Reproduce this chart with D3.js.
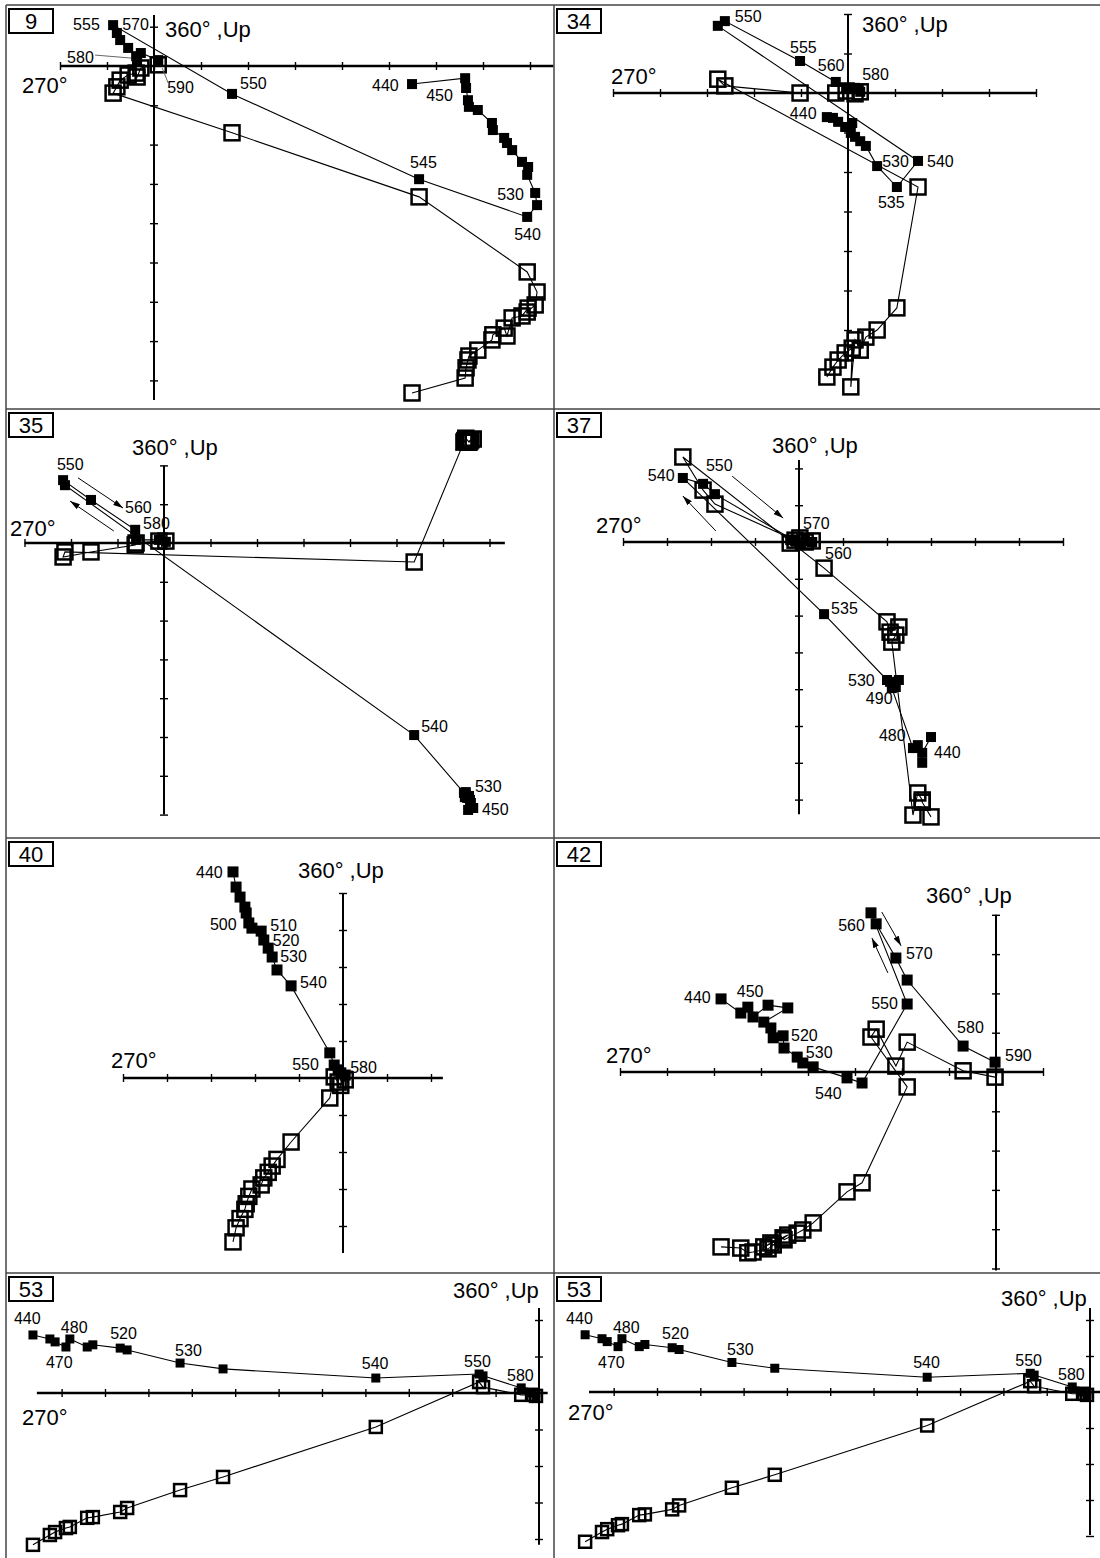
<!DOCTYPE html>
<html><head><meta charset="utf-8">
<script src="https://cdn.jsdelivr.net/npm/d3@7"></script>
<style>
body{margin:0;background:#fff}
svg{display:block}
text{font-family:"Liberation Sans",Arial,sans-serif;fill:#000}
</style>
</head><body>
<svg id="c" width="1100" height="1558"></svg>
<script>
// ---------- DATA (tick units; E = east, N = north, U = up) ----------
// Panel 9
const p9Steps = [440,450,455,460,465,470,475,480,485,490,495,500,510,520,530,535,540,545,550,555,560,565,570,575,580,585,590];
const p9E = [5.49,6.62,6.64,6.68,6.70,6.89,7.19,7.21,7.45,7.51,7.62,7.83,7.96,7.94,8.11,8.15,7.94,5.64,1.66,-0.87,-0.79,-0.72,-0.55,-0.38,-0.36,-0.28,0.09];
const p9N = [-0.46,-0.31,-0.56,-0.87,-1.04,-1.12,-1.45,-1.63,-1.83,-1.96,-2.14,-2.44,-2.57,-2.77,-3.23,-3.54,-3.84,-2.88,-0.71,1.04,0.84,0.66,0.46,0.25,0.10,0.33,0.15];
const p9U = [-8.32,-7.94,-7.68,-7.48,-7.38,-7.23,-6.97,-6.84,-6.67,-6.87,-6.41,-6.36,-6.16,-6.26,-6.08,-5.75,-5.24,-3.33,-1.70,-0.69,-0.53,-0.36,-0.23,-0.18,-0.28,-0.05,0.03];
const p9Labels = [["555",555,"h",-40,5],["570",570,"h",-6,-18],["580",580,"h",-70,1],["590",590,"h",9,33],["550",550,"h",8,-5],["440",440,"h",-40,7],["450",450,"h",-39,23],["545",545,"h",-9,-11],["530",530,"h",-38,7],["540",540,"h",-13,23]];
const p9Leaders = [[580,"h",-42,-7,-6,-4],[590,"h",4,8,10,23]];

// Panel 34
const p34Steps = [440,450,460,470,480,490,500,510,520,530,535,540,545,550,555,560,570,575,580];
const p34E = [-0.45,-0.32,-0.21,-0.06,0.09,0.06,0.15,0.26,0.38,0.62,1.04,1.49,-2.77,-2.62,-1.02,-0.26,-0.04,0.15,0.26];
const p34N = [-0.61,-0.63,-0.73,-0.86,-0.76,-1.01,-1.11,-1.22,-1.34,-1.85,-2.38,-1.72,1.70,1.82,0.81,0.28,0.13,0.13,0.03];
const p34U = [-7.19,-6.94,-6.76,-6.58,-6.46,-7.44,-6.25,-6.51,-6.18,-6.00,-5.44,-2.38,0.35,0.18,0.00,0.00,0.05,-0.02,0.03];
const p34Labels = [["550",550,"h",10,1],["555",555,"h",-10,-8],["560",560,"h",-18,-11],["580",580,"h",2,-12],["440",440,"h",-37,2],["530",530,"h",5,1],["540",540,"h",9,6],["535",535,"h",-19,21]];

// Panel 35
const p35Steps = [440,450,460,470,480,490,500,510,520,530,540,550,555,560,570,580,590,600];
const p35E = [6.54,6.60,6.65,6.58,6.56,6.52,6.49,6.47,6.49,6.45,5.38,-2.13,-2.17,-1.57,-0.62,-0.60,-0.11,0.04];
const p35N = [-6.88,-6.70,-6.83,-6.62,-6.52,-6.57,-6.49,-6.55,-6.42,-6.44,-4.95,1.49,1.62,1.11,0.34,0.08,0.08,0.03];
const p35U = [2.60,2.66,2.68,2.63,2.60,2.66,2.70,2.64,2.62,2.60,-0.49,-0.23,-0.36,-0.23,-0.05,0.00,0.05,0.05];
const p35Labels = [["550",550,"h",-8,-15],["560",560,"h",34,13],["580",580,"h",7,-11],["540",540,"h",7,-3],["530",530,"h",11,-1],["450",450,"h",11,12]];
const p35Arrows = [[-1.85,1.68,-0.88,0.90],[-1.08,0.31,-2.02,1.08]];

// Panel 37
const p37Steps = [440,450,460,470,480,490,500,510,520,530,535,540,545,550,560,565,570,575,580];
const p37E = [3.00,2.80,2.80,2.70,2.59,2.11,2.20,2.27,2.07,2.00,0.57,-2.64,-2.18,-1.91,-0.09,0.14,0.02,0.30,-0.20];
const p37N = [-5.30,-5.73,-6.00,-5.52,-5.60,-3.97,-3.94,-3.75,-3.80,-3.75,-1.96,1.74,1.58,1.30,0.03,0.05,-0.08,0.00,0.05];
const p37U = [-7.47,-7.07,-7.01,-6.82,-7.42,-2.72,-2.53,-2.31,-2.45,-2.17,-0.71,2.31,1.41,1.03,0.05,0.00,0.11,0.03,-0.03];
const p37Labels = [["540",540,"h",-35,3],["550",550,"h",-9,-23],["570",570,"h",3,-16],["560",560,"h",30,18],["535",535,"h",7,0],["530",530,"h",-39,6],["490",490,"h",-26,16],["480",480,"h",-34,-7],["440",440,"h",3,21]];
const p37Arrows = [[-1.52,1.79,-0.36,0.65],[-1.89,0.30,-2.64,1.25]];

// Panel 40
const p40Steps = [440,450,460,470,480,490,500,510,520,525,530,535,540,545,550,560,570,580];
const p40E = [-2.50,-2.43,-2.34,-2.23,-2.20,-2.14,-2.07,-1.86,-1.80,-1.70,-1.61,-1.50,-1.18,-0.30,-0.20,-0.11,-0.05,0.05];
const p40N = [5.57,5.16,4.89,4.62,4.46,4.19,4.05,3.97,3.73,3.51,3.27,2.92,2.49,0.68,0.35,0.22,0.14,0.08];
const p40U = [-4.43,-4.05,-3.80,-3.55,-3.40,-3.20,-3.00,-2.89,-2.70,-2.55,-2.38,-2.20,-1.73,-0.54,0.03,-0.11,-0.20,-0.05];
const p40Labels = [["440",440,"h",-37,6],["500",500,"h",-42,2],["510",510,"h",9,0],["520",520,"h",9,6],["530",530,"h",8,5],["540",540,"h",9,2],["550",550,"h",-42,5],["580",580,"h",5,-2]];

// Panel 42
const p42Steps = [440,450,460,470,480,490,500,505,510,515,520,525,530,535,540,545,550,555,560,570,575,580,590];
const p42E = [-5.85,-5.43,-5.28,-5.17,-4.85,-4.43,-4.94,-4.79,-4.74,-4.53,-4.51,-4.23,-4.11,-3.89,-3.17,-2.85,-1.89,-2.66,-2.55,-2.13,-1.89,-0.70,-0.02];
const p42N = [1.86,1.50,1.65,1.40,1.70,1.63,1.27,1.12,0.87,0.92,0.61,0.38,0.23,0.13,-0.15,-0.28,1.73,4.05,3.77,2.90,2.34,0.66,0.25];
const p42U = [-4.45,-4.48,-4.60,-4.58,-4.50,-4.15,-4.45,-4.35,-4.40,-4.22,-4.27,-4.10,-4.02,-3.84,-3.05,-2.82,-0.38,0.89,1.09,0.15,0.76,0.03,-0.13];
const p42Labels = [["440",440,"h",-37,4],["450",450,"h",-4,-16],["520",520,"h",7,-7],["530",530,"h",3,-5],["540",540,"h",-32,21],["550",550,"h",-36,5],["560",560,"h",-38,7],["570",570,"h",10,1],["580",580,"h",-6,-13],["590",590,"h",10,-1]];
const p42Arrows = [[-2.43,4.07,-2.02,3.21],[-2.30,2.52,-2.64,3.41]];

// Panel 53 (shown twice)
const p53Steps = [440,450,460,470,480,490,500,510,520,530,535,540,550,560,570,580,590];
const p53E = [-11.66,-11.27,-11.15,-10.90,-10.81,-10.41,-10.28,-9.65,-9.49,-8.27,-7.28,-3.76,-1.38,-1.29,-0.41,-0.16,-0.07];
const p53N = [1.59,1.48,1.40,1.26,1.48,1.26,1.32,1.23,1.18,0.82,0.66,0.41,0.52,0.47,0.14,0.00,-0.08];
const p53U = [-4.16,-3.89,-3.81,-3.70,-3.67,-3.42,-3.40,-3.26,-3.15,-2.66,-2.30,-0.93,0.30,0.16,-0.05,-0.05,-0.08];
const p53Labels = [["440",440,"h",-19,-11],["480",480,"h",-9,-6],["470",470,"h",-20,21],["520",520,"h",-17,-11],["530",530,"h",-5,-7],["540",540,"h",-14,-9],["550",550,"h",-15,-7],["580",580,"h",-25,-12]];

const axisWest = "270°";
const axisNorth = "360° ,Up";

// ---------- LAYOUT ----------
const rng = (a,b)=>d3.range(a,b+1);
const panels = [
 {id:"9", x0:6,y0:5,x1:554,y1:409, ox:154,oy:66,ux:47,uy:39.3, hExt:[-2,8.5],hT:rng(-2,8), vExt:[1.3,-8.5],vT:[1].concat(rng(-8,-1)), t270:[22,93],t360:[165,37], fs:10,os:15,
  S:p9Steps,E:p9E,N:p9N,U:p9U,L:p9Labels,LL:p9Leaders,A:[]},
 {id:"34", x0:554,y0:5,x1:1100,y1:409, ox:848,oy:93,ux:47,uy:39.5, hExt:[-5,4],hT:rng(-5,4), vExt:[2,-6.8],vT:[1,2].concat(rng(-6,-1)), t270:[611,84],t360:[862,32], fs:10,os:15,
  S:p34Steps,E:p34E,N:p34N,U:p34U,L:p34Labels,LL:[],A:[]},
 {id:"35", x0:6,y0:409,x1:554,y1:838, ox:164,oy:543,ux:46.5,uy:38.8, hExt:[-3,7.33],hT:rng(-3,7), vExt:[2,-7],vT:[1,2].concat(rng(-7,-1)), t270:[10,536],t360:[132,455], fs:10,os:15,
  S:p35Steps,E:p35E,N:p35N,U:p35U,L:p35Labels,LL:[],A:p35Arrows},
 {id:"37", x0:554,y0:409,x1:1100,y1:838, ox:799,oy:542,ux:44,uy:36.8, hExt:[-4,6],hT:rng(-4,6), vExt:[2.23,-7.4],vT:[1,2].concat(rng(-7,-1)), t270:[596,533],t360:[772,453], fs:10,os:15,
  S:p37Steps,E:p37E,N:p37N,U:p37U,L:p37Labels,LL:[],A:p37Arrows},
 {id:"40", x0:6,y0:838,x1:554,y1:1273, ox:343,oy:1078,ux:44,uy:37, hExt:[-5,2.27],hT:rng(-5,2), vExt:[5,-4.73],vT:rng(1,5).concat(rng(-4,-1)), t270:[111,1068],t360:[298,878], fs:11,os:15,
  S:p40Steps,E:p40E,N:p40N,U:p40U,L:p40Labels,LL:[],A:[]},
 {id:"42", x0:554,y0:838,x1:1100,y1:1273, ox:996,oy:1072,ux:47,uy:39.3, hExt:[-8,1],hT:rng(-8,1), vExt:[4,-5.05],vT:rng(1,4).concat(rng(-5,-1)), t270:[606,1063],t360:[926,903], fs:11,os:15,
  S:p42Steps,E:p42E,N:p42N,U:p42U,L:p42Labels,LL:[],A:p42Arrows},
 {id:"53", x0:6,y0:1273,x1:554,y1:1558, ox:539,oy:1393,ux:43.4,uy:36.5, hExt:[-11.57,0.2],hT:rng(-11,0), vExt:[2.33,-4.16],vT:[1,2].concat(rng(-4,-1)), t270:[22,1425],t360:[453,1298], fs:9,os:12,
  S:p53Steps,E:p53E,N:p53N,U:p53U,L:p53Labels,LL:[],A:[]},
 {id:"53", x0:554,y0:1273,x1:1100,y1:1558, ox:1090,oy:1392,ux:43.3,uy:36, hExt:[-11.57,0.25],hT:rng(-11,0), vExt:[2.33,-3.97],vT:[1,2].concat(rng(-4,-1)), t270:[568,1420],t360:[1001,1306], fs:9,os:12,
  S:p53Steps,E:p53E,N:p53N,U:p53U,L:p53Labels,LL:[],A:[]}
];

// ---------- DRAW ----------
const svg = d3.select("#c");
const defs = svg.append("defs");
defs.append("marker").attr("id","ah").attr("viewBox","0 0 10 6").attr("refX",10).attr("refY",3)
  .attr("markerWidth",10).attr("markerHeight",6).attr("markerUnits","userSpaceOnUse").attr("orient","auto")
  .append("path").attr("d","M0,0L10,3L0,6Z").attr("fill","#000");

panels.forEach((p,pi)=>{
  const cid="clip"+pi;
  defs.append("clipPath").attr("id",cid).append("rect")
    .attr("x",p.x0).attr("y",p.y0).attr("width",p.x1-p.x0).attr("height",p.y1-p.y0);
  const g = svg.append("g").attr("clip-path",`url(#${cid})`);
  const x = d3.scaleLinear().domain([0,1]).range([p.ox,p.ox+p.ux]);
  const y = d3.scaleLinear().domain([0,1]).range([p.oy,p.oy-p.uy]);

  // axes
  g.append("line").attr("x1",x(p.hExt[0])).attr("x2",x(p.hExt[1])).attr("y1",y(0)).attr("y2",y(0))
    .attr("stroke","#000").attr("stroke-width",2.4);
  g.append("line").attr("x1",x(0)).attr("x2",x(0)).attr("y1",y(p.vExt[0])).attr("y2",y(p.vExt[1]))
    .attr("stroke","#000").attr("stroke-width",2);
  const ha = g.append("g").attr("transform",`translate(0,${y(0)-4})`)
    .call(d3.axisBottom(x).tickValues(p.hT).tickSize(8).tickSizeOuter(0).tickFormat(""));
  ha.select(".domain").remove();
  ha.selectAll("line").attr("stroke","#000").attr("stroke-width",1.4);
  const va = g.append("g").attr("transform",`translate(${x(0)+4},0)`)
    .call(d3.axisLeft(y).tickValues(p.vT).tickSize(8).tickSizeOuter(0).tickFormat(""));
  va.select(".domain").remove();
  va.selectAll("line").attr("stroke","#000").attr("stroke-width",1.4);

  const idx = d3.range(p.S.length);
  const lineH = d3.line().x(i=>x(p.E[i])).y(i=>y(p.N[i]));
  const lineV = d3.line().x(i=>x(p.E[i])).y(i=>y(p.U[i]));
  g.append("path").attr("d",lineV(idx)).attr("fill","none").attr("stroke","#000").attr("stroke-width",1.1);
  g.append("path").attr("d",lineH(idx)).attr("fill","none").attr("stroke","#000").attr("stroke-width",1.1);

  // open squares (vertical projection)
  g.append("g").selectAll("rect").data(idx).join("rect")
    .attr("x",i=>x(p.E[i])-p.os/2).attr("y",i=>y(p.U[i])-p.os/2)
    .attr("width",p.os).attr("height",p.os)
    .attr("fill","none").attr("stroke","#000").attr("stroke-width",2.5);
  // filled squares (horizontal projection)
  g.append("g").selectAll("rect").data(idx).join("rect")
    .attr("x",i=>x(p.E[i])-p.fs/2).attr("y",i=>y(p.N[i])-p.fs/2)
    .attr("width",p.fs).attr("height",p.fs).attr("fill","#000");

  const pos = (step,proj)=>{const k=p.S.indexOf(step);return [x(p.E[k]), y(proj==="h"?p.N[k]:p.U[k])];};
  // leader lines
  p.LL.forEach(([st,pr,a1,b1,a2,b2])=>{
    const [px,py]=pos(st,pr);
    g.append("line").attr("x1",px+a1).attr("y1",py+b1).attr("x2",px+a2).attr("y2",py+b2)
      .attr("stroke","#666").attr("stroke-width",1);
  });
  // step labels
  p.L.forEach(([t,st,pr,dx,dy])=>{
    const [px,py]=pos(st,pr);
    g.append("text").attr("x",px+dx).attr("y",py+dy).attr("font-size",16).text(t);
  });
  // arrows
  p.A.forEach(([e1,n1,e2,n2])=>{
    g.append("line").attr("x1",x(e1)).attr("y1",y(n1)).attr("x2",x(e2)).attr("y2",y(n2))
      .attr("stroke","#000").attr("stroke-width",1).attr("marker-end","url(#ah)");
  });
  // axis labels
  g.append("text").attr("x",p.t270[0]).attr("y",p.t270[1]).attr("font-size",22).text(axisWest);
  g.append("text").attr("x",p.t360[0]).attr("y",p.t360[1]).attr("font-size",22).text(axisNorth);
  // panel id box
  g.append("rect").attr("x",p.x0+3).attr("y",p.y0+4).attr("width",44).attr("height",24)
    .attr("fill","#fff").attr("stroke","#000").attr("stroke-width",2);
  g.append("text").attr("x",p.x0+25).attr("y",p.y0+24).attr("text-anchor","middle").attr("font-size",22).text(p.id);
});

// frame
const fr = svg.append("g").attr("stroke","#444").attr("stroke-width",1.5);
fr.append("line").attr("x1",6).attr("x2",6).attr("y1",5).attr("y2",1558);
fr.append("line").attr("x1",554).attr("x2",554).attr("y1",5).attr("y2",1558);
[5,409,838,1273].forEach(v=>fr.append("line").attr("x1",6).attr("x2",1100).attr("y1",v).attr("y2",v));
</script>
</body></html>
